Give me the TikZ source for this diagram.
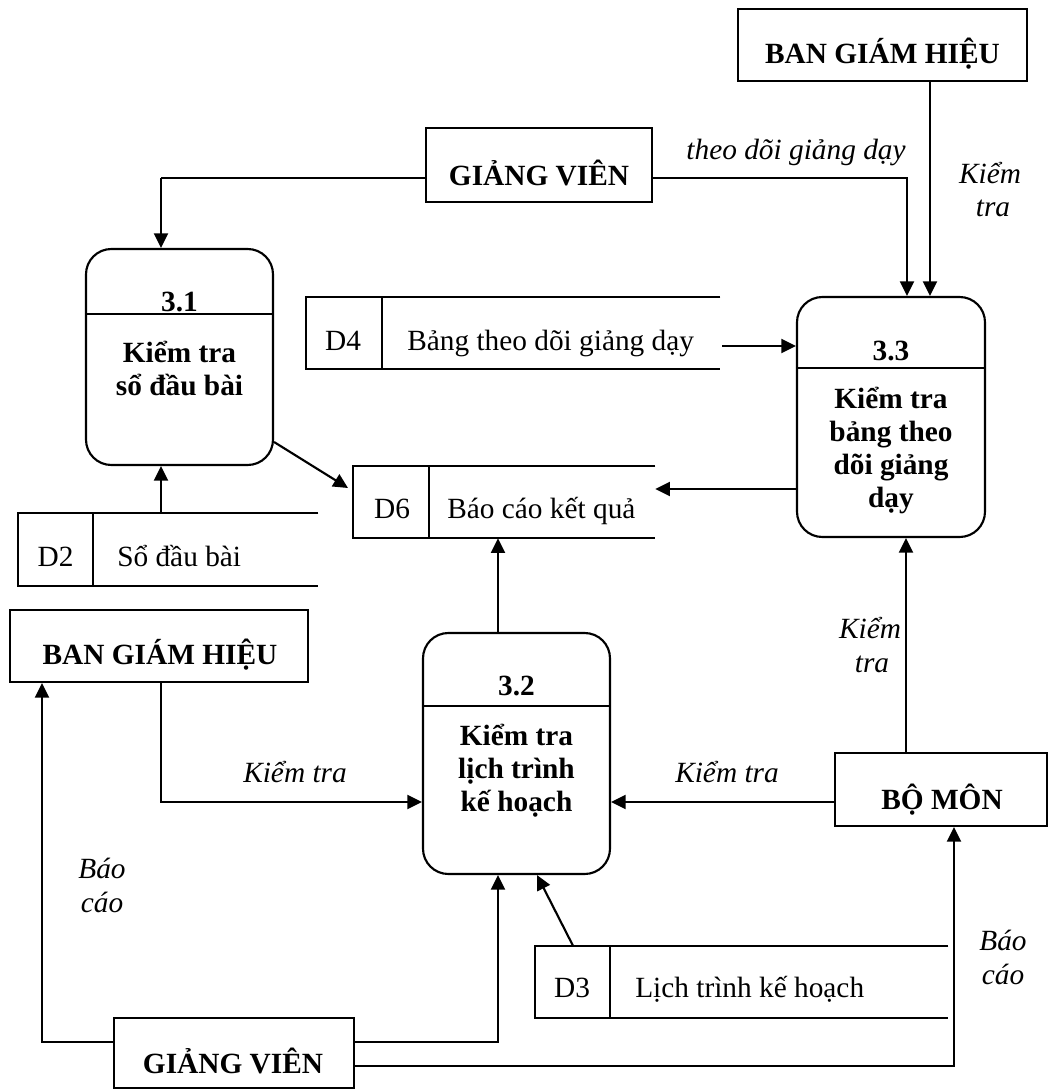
\documentclass[tikz,border=0pt]{standalone}
\usepackage{fontspec}
\setmainfont{Liberation Serif}
\usetikzlibrary{arrows.meta}

\begin{document}
\begin{tikzpicture}[x=0.75pt,y=-0.75pt,
  ln/.style={line width=1.6pt},
  fine/.style={line width=0.8pt},
  arr/.style={ln,-{Triangle[length=11pt,width=10.5pt]}},
  ent/.style={draw,ln,inner sep=0pt},
  proc/.style={draw,ln,rounded corners=19pt,inner sep=0pt},
  store/.style={inner sep=0pt},
  bt/.style={font=\fontsize{22}{26}\selectfont\bfseries,inner sep=0pt,anchor=base},
  rt/.style={font=\fontsize{22}{26}\selectfont,inner sep=0pt,anchor=base},
  rtw/.style={font=\fontsize{22}{26}\selectfont,inner sep=0pt,anchor=base west},
  itx/.style={font=\fontsize{22}{26}\selectfont\itshape,inner sep=0pt,anchor=base},
]
\useasboundingbox (0,0) rectangle (1050,1089);

% ---------- external entities ----------
\node[ent,minimum width=216.75pt,minimum height=54pt] (bghT) at (882.5,45) {};
\node[bt] (bghTt) at (882.5,63) {BAN GIÁM HIỆU};

\node[ent,minimum width=169.5pt,minimum height=55.5pt] (gvT) at (539,165) {};
\node[bt] (gvTt) at (539,185) {GIẢNG VIÊN};

\node[ent,minimum width=223.5pt,minimum height=54pt] (bghL) at (159,646) {};
\node[bt] (bghLt) at (160,664) {BAN GIÁM HIỆU};

\node[ent,minimum width=159pt,minimum height=54.75pt] (bm) at (941,789.5) {};
\node[bt] (bmt) at (942,809) {BỘ MÔN};

\node[ent,minimum width=180pt,minimum height=52.5pt] (gvB) at (234,1053) {};
\node[bt] (gvBt) at (233,1073) {GIẢNG VIÊN};

% ---------- processes ----------
\node[proc,minimum width=140.25pt,minimum height=162pt] (p31) at (179.5,357) {};
\draw[ln] (p31.west |- 0,314) -- (p31.east |- 0,314);
\node[bt] (p31n) at (179.5,311) {3.1};
\node[bt] (p31a) at (179.5,362) {Kiểm tra};
\node[bt] (p31b) at (179.5,395) {sổ đầu bài};

\node[proc,minimum width=140.25pt,minimum height=180.75pt] (p32) at (516.5,753.5) {};
\draw[ln] (p32.west |- 0,706) -- (p32.east |- 0,706);
\node[bt] (p32n) at (516.5,695) {3.2};
\node[bt] (p32a) at (516.5,745) {Kiểm tra};
\node[bt] (p32b) at (516.5,778) {lịch trình};
\node[bt] (p32c) at (516.5,811) {kế hoạch};

\node[proc,minimum width=141pt,minimum height=180pt] (p33) at (891,417) {};
\draw[ln] (p33.west |- 0,368) -- (p33.east |- 0,368);
\node[bt] (p33n) at (891,360) {3.3};
\node[bt] (p33a) at (891,408) {Kiểm tra};
\node[bt] (p33b) at (891,441) {bảng theo};
\node[bt] (p33c) at (891,474) {dõi giảng};
\node[bt] (p33d) at (891,507) {dạy};

% ---------- data stores (open on the right) ----------
\node[store,minimum width=225pt,minimum height=54.75pt] (d2) at (168,549.5) {};
\draw[ln] (d2.north east) -- (d2.north west) -- (d2.south west) -- (d2.south east);
\draw[ln] (d2.north -| 93,0) -- (d2.south -| 93,0);
\node[rt] (d2n) at (55.5,566) {D2};
\node[rtw] (d2t) at (117,566) {Sổ đầu bài};

\node[store,minimum width=310.5pt,minimum height=54pt] (d4) at (513,333) {};
\draw[ln] (d4.north east) -- (d4.north west) -- (d4.south west) -- (d4.south east);
\draw[ln] (d4.north -| 382,0) -- (d4.south -| 382,0);
\node[rt] (d4n) at (343,350) {D4};
\node[rtw] (d4t) at (407,350) {Bảng theo dõi giảng dạy};

\node[store,minimum width=226.5pt,minimum height=54pt] (d6) at (504,502) {};
\draw[ln] (d6.north east) -- (d6.north west) -- (d6.south west) -- (d6.south east);
\draw[ln] (d6.north -| 429,0) -- (d6.south -| 429,0);
\node[rt] (d6n) at (392,518) {D6};
\node[rtw] (d6t) at (447,518) {Báo cáo kết quả};

\node[store,minimum width=309.75pt,minimum height=54pt] (d3) at (741.5,982) {};
\draw[ln] (d3.north east) -- (d3.north west) -- (d3.south west) -- (d3.south east);
\draw[ln] (d3.north -| 610,0) -- (d3.south -| 610,0);
\node[rt] (d3n) at (572,997) {D3};
\node[rtw] (d3t) at (635,997) {Lịch trình kế hoạch};

% ---------- bend points ----------
\coordinate (k31) at (161,178);
\coordinate (kL1) at (210,802);
\coordinate (kL2) at (379,802);
\coordinate (kR1) at (811,802);
\coordinate (kR2) at (642,802);
\coordinate (d6in) at (348,488);

% ---------- flows ----------
% GIẢNG VIÊN -> 3.1
\draw[fine] (gvT.west |- k31) -- (k31);
\draw[ln] (gvT.west |- k31) -- ++(-23,0);
\draw[arr] (k31) -- (p31.north -| k31);
% GIẢNG VIÊN -> 3.3 (theo dõi giảng dạy)
\draw[arr] (gvT.east |- k31) -| (p33.north -| 907,0);
% BAN GIÁM HIỆU -> 3.3
\draw[arr] (bghT.south -| 930,0) -- (p33.north -| 930,0);
% D4 -> 3.3
\draw[arr] (722,346) -- (p33.west |- 0,346);
% 3.3 -> D6
\draw[arr] (p33.west |- 0,489) -- (d6.east |- 0,489);
% 3.1 -> D6
\draw[arr] (p31.east |- 0,442) -- (d6in);
% D2 -> 3.1
\draw[arr] (d2.north -| k31) -- (p31.south -| k31);
% 3.2 -> D6
\draw[arr] (p32.north -| 498,0) -- (d6.south -| 498,0);
% BAN GIÁM HIỆU -> 3.2
\draw[ln] (bghL.south -| k31) |- (kL1);
\draw[fine] (kL1) -- (kL2);
\draw[arr] (kL2) -- (p32.west |- kL2);
% BỘ MÔN -> 3.2
\draw[ln] (bm.west |- kR1) -- (kR1);
\draw[fine] (kR1) -- (kR2);
\draw[arr] (kR2) -- (p32.east |- kR2);
% BỘ MÔN -> 3.3
\draw[arr] (bm.north -| 906,0) -- (p33.south -| 906,0);
% D3 -> 3.2
\draw[arr] (d3.north -| 573,0) -- (p32.south -| 537,0);
% GIẢNG VIÊN -> BAN GIÁM HIỆU
\draw[arr] (gvB.west |- 0,1042) -| (bghL.south -| 42,0);
% GIẢNG VIÊN -> 3.2
\draw[arr] (gvB.east |- 0,1042) -| (p32.south -| 498,0);
% GIẢNG VIÊN -> BỘ MÔN
\draw[arr] (gvB.east |- 0,1066) -| (bm.south -| 954,0);

% ---------- flow labels ----------
\node[itx] (lTheo) at (796,159) {theo dõi giảng dạy};
\node[itx] (lK1a) at (990,183) {Kiểm};
\node[itx] (lK1b) at (993,216) {tra};
\node[itx] (lK2) at (295,782) {Kiểm tra};
\node[itx] (lK3) at (727,782) {Kiểm tra};
\node[itx] (lK4a) at (870,638) {Kiểm};
\node[itx] (lK4b) at (872,672) {tra};
\node[itx] (lB1a) at (102,878) {Báo};
\node[itx] (lB1b) at (102,912) {cáo};
\node[itx] (lB2a) at (1003,950) {Báo};
\node[itx] (lB2b) at (1003,984) {cáo};
\end{tikzpicture}
\end{document}
